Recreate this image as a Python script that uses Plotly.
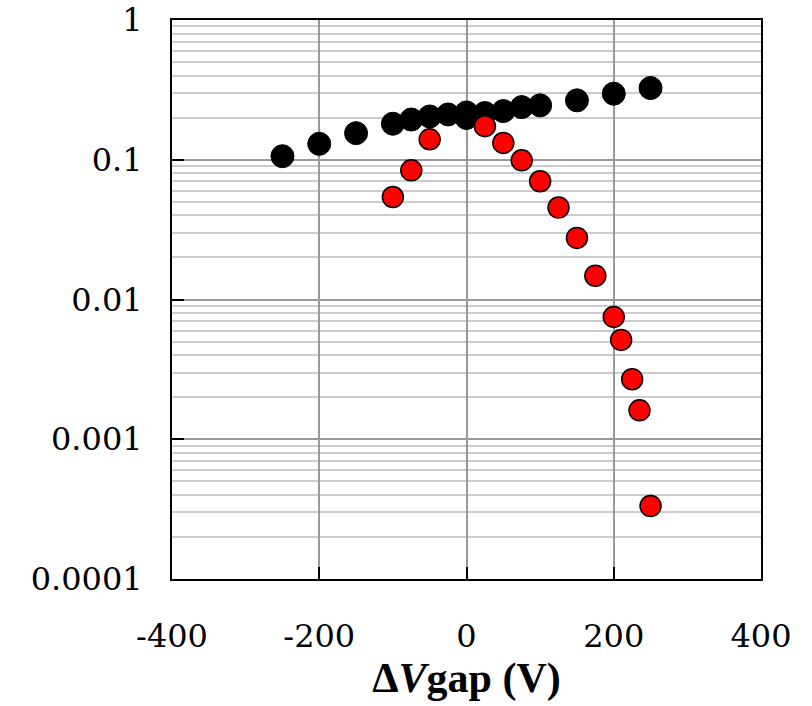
import plotly.graph_objects as go

black_x = [-250, -200, -150, -100, -75, -50, -25, 0, 0, 25, 50, 75, 100, 150, 200, 250]
black_y = [0.106, 0.130, 0.155, 0.181, 0.194, 0.204, 0.211, 0.218, 0.199, 0.216, 0.223, 0.238, 0.245, 0.266, 0.297, 0.326]

red_x = [-100, -75, -50, 25, 50, 75, 100, 125, 150, 175, 200, 210, 225, 235, 250]
red_y = [0.0541, 0.0840, 0.140, 0.174, 0.132, 0.099, 0.0701, 0.0455, 0.0276, 0.0148,
         0.00751, 0.00514, 0.00269, 0.00161, 0.000333]

y_tickvals = [0.0001, 0.001, 0.01, 0.1, 1]
y_ticktext = ["0.0001", "0.001", "0.01", "0.1", "1"]
x_tickvals = [-400, -200, 0, 200, 400]
x_ticktext = ["-400", "-200", "0", "200", "400"]

fig = go.Figure()
fig.add_trace(go.Scatter(x=black_x, y=black_y, mode="markers",
                         marker=dict(size=23, color="black", line=dict(color="black", width=1)),
                         showlegend=False))
fig.add_trace(go.Scatter(x=red_x, y=red_y, mode="markers",
                         marker=dict(size=21, color="#ff0000", line=dict(color="black", width=1.5)),
                         showlegend=False))

font_ticks = dict(family="DejaVu Serif", size=32, color="black")

fig.update_layout(
    width=812, height=706,
    margin=dict(l=172, r=51, t=20, b=127),
    paper_bgcolor="white", plot_bgcolor="white",
    xaxis=dict(range=[-400, 400], tickvals=x_tickvals, ticktext=x_ticktext, ticks="inside", ticklen=12,
               tickwidth=2, tickcolor="black", showline=True, linecolor="black", linewidth=2,
               mirror=True, showgrid=True, gridcolor="#999999", gridwidth=1.5, zeroline=False,
               tickfont=font_ticks, ticklabelstandoff=28, automargin=False,
               title=dict(text="<b>Δ<i>V</i>gap (V)</b>",
                          font=dict(family="Liberation Serif", size=42, color="black"),
                          standoff=8)),
    yaxis=dict(type="log", range=[-4, 0], tickvals=y_tickvals, ticktext=y_ticktext,
               ticks="inside", ticklen=12, tickwidth=2, tickcolor="black",
               showline=True, linecolor="black", linewidth=2, mirror=True,
               showgrid=True, gridcolor="#999999", gridwidth=1.5, zeroline=False,
               tickfont=font_ticks, ticklabelstandoff=21, automargin=False,
               minor=dict(showgrid=True, gridcolor="#cccccc", gridwidth=1.5, dtick="D1")),
)

fig.write_html("out.html")
